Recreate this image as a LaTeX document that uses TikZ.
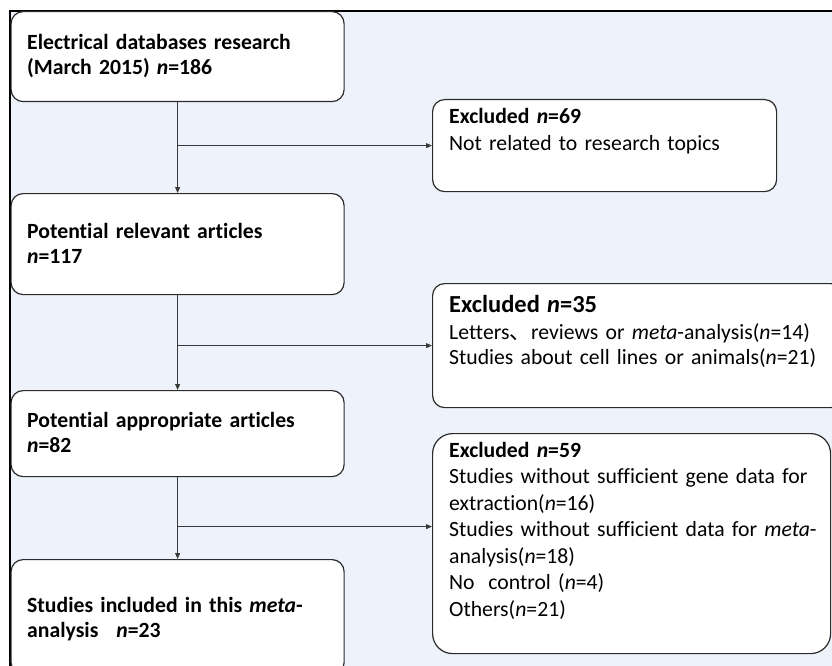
\documentclass[tikz,border=0pt]{standalone}
\usepackage{fontspec}
\setmainfont{Carlito}[Ligatures={NoCommon}]
\newfontfamily\cjk{Noto Sans CJK SC}
\usetikzlibrary{arrows.meta}
\definecolor{panel}{HTML}{EEF2FA}
\definecolor{edge}{HTML}{2B2B2B}
\definecolor{wire}{HTML}{3A3A3A}
\begin{document}
\begin{tikzpicture}[x=1pt,y=-1pt,
  stagebox/.style={draw=edge, line width=1.2pt, fill=white, rounded corners=12pt, anchor=north west, inner sep=0pt},
  lefttext/.style={anchor=base west, inner sep=0pt, text width=320pt, align=left, font=\fontsize{21.7}{25}\selectfont\bfseries},
  righttext/.style={anchor=base west, inner sep=0pt, text width=380pt, align=left},
  flow/.style={draw=wire, line width=0.8pt, -{Triangle[length=6pt,width=5pt]}},
  branch/.style={draw=wire, line width=0.8pt}
]
\useasboundingbox (0,0) rectangle (832,666);
\clip (0,0) rectangle (832,666);
% background panel
\fill[panel] (10,11) rectangle (832,666);
\draw[black, line width=1.2pt] (10,666) -- (10,11) -- (832,11);

% left column boxes
\node[stagebox, minimum width=333pt, minimum height=90pt] (b1) at (10.5,11) {};
\node[stagebox, minimum width=333pt, minimum height=101pt] (b2) at (10.5,193) {};
\node[stagebox, minimum width=333pt, minimum height=86pt] (b3) at (10.5,390) {};
\node[stagebox, minimum width=333pt, minimum height=115pt] (b4) at (10.5,559) {};

\node[lefttext] (t1) at (27,50) {Electrical databases research\\(March 2015) \textit{n}=186};
\node[lefttext] (t2) at (27,238) {Potential relevant articles\\\textit{n}=117};
\node[lefttext] (t3) at (27,427) {Potential appropriate articles\\\textit{n}=82};
\node[lefttext] (t4) at (27,612) {Studies included in this \textit{meta}-\\analysis\hspace{0.5em} \textit{n}=23};

% right column boxes
\node[stagebox, minimum width=344pt, minimum height=92pt] (e1) at (432,99) {};
\node[stagebox, minimum width=410pt, minimum height=124pt] (e2) at (432,283) {};
\node[stagebox, rounded corners=20pt, minimum width=398pt, minimum height=220pt] (e3) at (432,433) {};

\node[righttext, font=\fontsize{21.7}{27}\selectfont] (r1) at (449,124)
  {\textbf{Excluded \textit{n}=69}\\Not related to research topics};
\node[righttext, font=\fontsize{21.7}{25}\selectfont] (r2) at (449,312)
  {{\fontsize{24.5}{25}\selectfont\bfseries Excluded \textit{n}=35}\\[2pt]
   Letters{\cjk 、}reviews or \textit{meta}-analysis(\textit{n}=14)\\
   Studies about cell lines or animals(\textit{n}=21)};
\node[righttext, font=\fontsize{21.7}{26.5}\selectfont] (r3) at (449,457)
  {\textbf{Excluded \textit{n}=59}\\
   Studies without sufficient gene data for\\
   extraction(\textit{n}=16)\\
   Studies without sufficient data for \textit{meta}-\\
   analysis(\textit{n}=18)\\
   No\hspace{0.3em} control (\textit{n}=4)\\
   Others(\textit{n}=21)};

% connectors
\draw[flow] (b1.south) -- (b2.north);
\draw[flow] (b2.south) -- (b3.north);
\draw[flow] (b3.south) -- (b4.north);
\coordinate (j1) at (b1.south |- e1.west);
\coordinate (j2) at (b2.south |- e2.west);
\coordinate (a3) at ([yshift=17pt]e3.west);
\coordinate (j3) at (b3.south |- a3);
\draw[flow] (j1) -- (e1.west);
\draw[flow] (j2) -- (e2.west);
\draw[flow] (j3) -- (a3);
\end{tikzpicture}
\end{document}
